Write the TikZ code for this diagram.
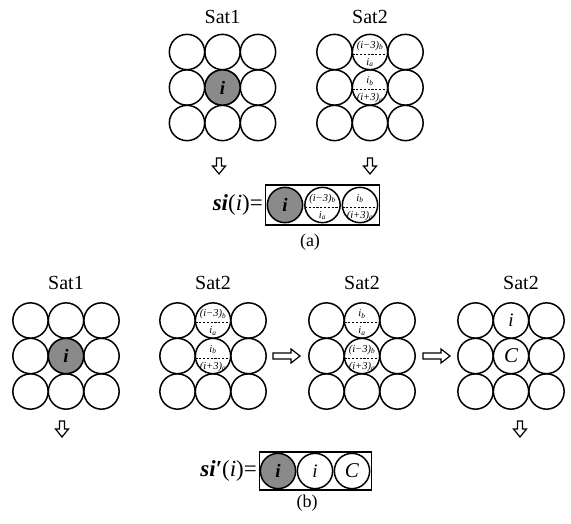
\documentclass[tikz,border=0pt]{standalone}
\usepackage{fontspec}
\setmainfont{Liberation Serif}
\definecolor{shadegray}{RGB}{138,138,138}
\newcommand{\cellgrid}[3]{%
  \foreach \r in {1,2,3}{\foreach \c in {1,2,3}{%
    \node[cell] (#1-\r\c) at ({#2+(\c-2)*35.5},{#3+(\r-2)*35.5}) {};}}}
% dashed chord slightly below the centre of a cell, with a label above and below it
\newcommand{\splitcell}[3]{%
  \draw[splitline] ([shift={(-17.6,2)}]#1.center) -- ([shift={(17.6,2)}]#1.center);
  \node[tinylbl] (#1-up) at ([shift={(0,-6.5)}]#1.center) {#2};
  \node[tinylbl] (#1-lo) at ([shift={(0,10.5)}]#1.center) {#3};}
\newcommand{\downarrowshape}[1]{%
  \draw[hollow,shift={(#1)}] (-2.5,0) -- (2.5,0) -- (2.5,8) -- (6.5,8) -- (0,16) -- (-6.5,8) -- (-2.5,8) -- cycle;}
\newcommand{\rightarrowshape}[1]{%
  \draw[hollow,shift={(#1)}] (0,-3) -- (18,-3) -- (18,-7) -- (27,0) -- (18,7) -- (18,3) -- (0,3) -- cycle;}
\begin{document}
\begin{tikzpicture}[x=1pt,y=-1pt,
  cell/.style={circle,draw,line width=1.5pt,minimum size=35.3pt,inner sep=0pt,
    font=\fontsize{19}{21}\selectfont\itshape},
  darkcell/.style={cell,fill=shadegray,font=\fontsize{19}{21}\selectfont\bfseries\itshape},
  splitline/.style={dashed,line width=1pt,dash pattern=on 2.2pt off 1.6pt},
  tinylbl/.style={inner sep=0pt,font=\fontsize{10.5}{11}\selectfont\itshape},
  biglbl/.style={inner sep=0pt,font=\fontsize{19}{21}\selectfont\itshape},
  title/.style={inner sep=0pt,font=\fontsize{20}{22}\selectfont},
  caption/.style={inner sep=0pt,font=\fontsize{18}{20}\selectfont},
  formula/.style={inner sep=0pt,anchor=east,font=\fontsize{23}{25}\selectfont},
  frame/.style={draw,line width=1.3pt},
  hollow/.style={draw,line width=1.2pt,line join=miter,fill=white}]
\useasboundingbox (0,0) rectangle (571,523);

% ---------------- (a) ----------------
\node[title] (tA1) at (222.5,17) {Sat1};
\node[title] (tA2) at (370,17) {Sat2};
\cellgrid{A1}{222.5}{87.5}
\cellgrid{A2}{370}{87.5}
\node[darkcell] (A1-c) at (A1-22) {i};
\splitcell{A2-12}{(i−3)\textsubscript{b}}{i\textsubscript{a}}
\splitcell{A2-22}{i\textsubscript{b}}{(i+3)\textsubscript{a}}

\coordinate (dA1) at (219,158);
\coordinate (dA2) at (370,158);
\downarrowshape{dA1}
\downarrowshape{dA2}

\node[frame,minimum width=114pt,minimum height=40pt,inner sep=0pt] (boxA) at (322.5,205) {};
\node[darkcell] (sA1) at (285,205) {i};
\node[cell] (sA2) at (322.5,205) {};
\node[cell] (sA3) at (360,205) {};
\splitcell{sA2}{(i−3)\textsubscript{b}}{i\textsubscript{a}}
\splitcell{sA3}{i\textsubscript{b}}{(i+3)\textsubscript{a}}
\node[formula] (fA) at (263,205) {\textbf{\textit{si}}(\textit{i})=};
\node[caption] (capA) at (310,242) {(a)};

% ---------------- (b) ----------------
\node[title] (tB1) at (66,283) {Sat1};
\node[title] (tB2) at (213,283) {Sat2};
\node[title] (tB3) at (362,283) {Sat2};
\node[title] (tB4) at (521,283) {Sat2};
\cellgrid{B1}{66}{356}
\cellgrid{B2}{213}{356}
\cellgrid{B3}{362}{356}
\cellgrid{B4}{511}{356}
\node[darkcell] (B1-c) at (B1-22) {i};
\splitcell{B2-12}{(i−3)\textsubscript{b}}{i\textsubscript{a}}
\splitcell{B2-22}{i\textsubscript{b}}{(i+3)\textsubscript{a}}
\splitcell{B3-12}{i\textsubscript{b}}{i\textsubscript{a}}
\splitcell{B3-22}{(i−3)\textsubscript{b}}{(i+3)\textsubscript{a}}
\node[biglbl] (B4-i) at (B4-12) {i};
\node[biglbl,font=\fontsize{21}{23}\selectfont\itshape] (B4-C) at (B4-22) {C};

\coordinate (rB1) at (273,356);
\coordinate (rB2) at (423,356);
\rightarrowshape{rB1}
\rightarrowshape{rB2}
\coordinate (dB1) at (62,421);
\coordinate (dB2) at (520,421);
\downarrowshape{dB1}
\downarrowshape{dB2}

\node[frame,minimum width=112pt,minimum height=38pt,inner sep=0pt] (boxB) at (315.5,471) {};
\node[darkcell] (sB1) at (278,471) {i};
\node[cell] (sB2) at (315,471) {i};
\node[cell,font=\fontsize{21}{23}\selectfont\itshape] (sB3) at (352,471) {C};
\node[formula] (fB) at (257,471) {\textbf{\textit{si′}}(\textit{i})=};
\node[caption] (capB) at (307,503) {(b)};
\end{tikzpicture}
\end{document}
